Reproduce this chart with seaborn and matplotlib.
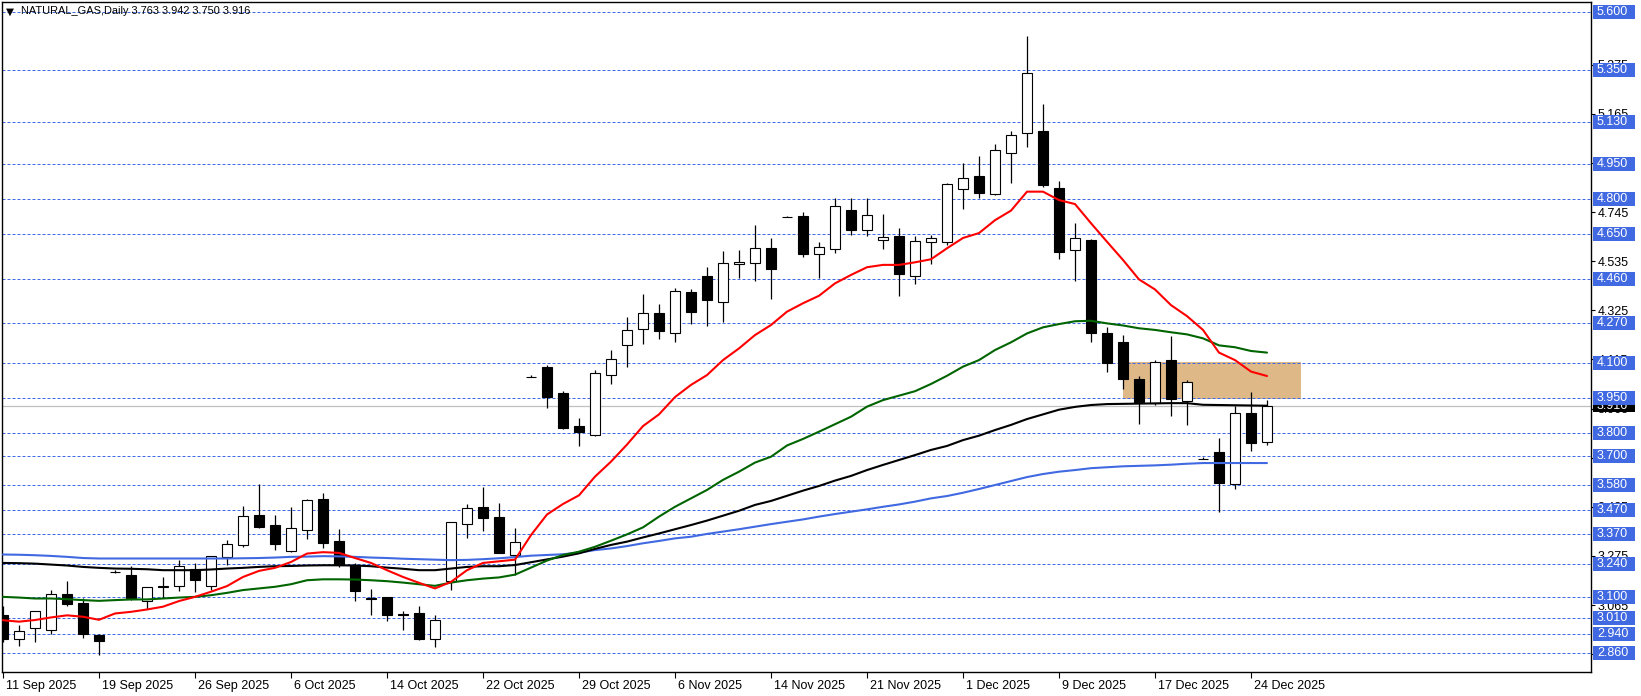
import matplotlib
matplotlib.use("Agg")
import matplotlib.pyplot as plt
import matplotlib.transforms as mtransforms
from matplotlib.patches import Rectangle
import numpy as np
import pandas as pd
import seaborn as sns

# daily bars, oldest first
opens = [3.022, 2.918, 2.965, 2.957, 3.114, 3.072, 2.937, 3.207, 3.193, 3.083,
         3.144, 3.147, 3.221, 3.147, 3.271, 3.323, 3.448, 3.406, 3.296, 3.387,
         3.519, 3.337, 3.235, 3.089, 3.099, 3.028, 3.029, 2.918, 3.168, 3.413,
         3.482, 3.440, 3.281, 4.038, 4.081, 3.970, 3.829, 3.790, 4.047, 4.175,
         4.244, 4.312, 4.229, 4.402, 4.470, 4.362, 4.521, 4.529, 4.590, 4.722,
         4.728, 4.564, 4.586, 4.752, 4.667, 4.624, 4.641, 4.470, 4.615, 4.615,
         4.842, 4.898, 4.823, 4.996, 5.081, 5.091, 4.848, 4.581, 4.625, 4.228,
         4.188, 4.031, 3.930, 4.111, 3.937, 3.688, 3.718, 3.581, 3.884, 3.763]
highs = [3.060, 2.979, 3.041, 3.131, 3.166, 3.093, 2.941, 3.214, 3.231, 3.142,
         3.186, 3.257, 3.245, 3.274, 3.345, 3.487, 3.581, 3.448, 3.484, 3.519,
         3.545, 3.389, 3.245, 3.133, 3.099, 3.039, 3.063, 3.022, 3.421, 3.498,
         3.569, 3.502, 3.393, 4.047, 4.091, 3.978, 3.863, 4.068, 4.155, 4.298,
         4.395, 4.352, 4.420, 4.416, 4.510, 4.578, 4.583, 4.690, 4.634, 4.728,
         4.745, 4.617, 4.804, 4.804, 4.804, 4.737, 4.675, 4.641, 4.645, 4.868,
         4.953, 4.984, 5.036, 5.090, 5.497, 5.205, 4.878, 4.698, 4.630, 4.252,
         4.218, 4.043, 4.111, 4.215, 4.027, 3.699, 3.779, 3.916, 3.976, 3.942]
lows = [2.908, 2.891, 2.908, 2.941, 3.060, 2.923, 2.852, 3.202, 3.086, 3.049,
        3.093, 3.126, 3.119, 3.129, 3.238, 3.313, 3.394, 3.299, 3.292, 3.346,
        3.309, 3.228, 3.083, 3.022, 2.998, 2.958, 2.916, 2.887, 3.129, 3.352,
        3.382, 3.288, 3.193, 4.038, 3.909, 3.816, 3.746, 3.786, 4.011, 4.084,
        4.182, 4.204, 4.191, 4.268, 4.259, 4.273, 4.462, 4.452, 4.375, 4.722,
        4.554, 4.462, 4.571, 4.648, 4.644, 4.586, 4.387, 4.439, 4.524, 4.605,
        4.759, 4.804, 4.819, 4.870, 5.024, 4.850, 4.546, 4.451, 4.191, 4.062,
        3.988, 3.840, 3.919, 3.875, 3.836, 3.688, 3.464, 3.562, 3.725, 3.750]
closes = [2.918, 2.954, 3.039, 3.114, 3.070, 2.940, 2.913, 3.207, 3.090, 3.140,
          3.146, 3.231, 3.174, 3.274, 3.328, 3.444, 3.398, 3.328, 3.396, 3.515,
          3.330, 3.235, 3.126, 3.097, 3.022, 3.024, 2.920, 2.999, 3.421, 3.481,
          3.438, 3.288, 3.336, 4.038, 3.953, 3.823, 3.805, 4.055, 4.115, 4.239,
          4.312, 4.238, 4.406, 4.318, 4.370, 4.526, 4.530, 4.590, 4.503, 4.722,
          4.567, 4.594, 4.769, 4.670, 4.731, 4.637, 4.482, 4.620, 4.633, 4.863,
          4.889, 4.825, 5.009, 5.073, 5.338, 4.862, 4.575, 4.633, 4.229, 4.098,
          4.033, 3.934, 4.102, 3.944, 4.017, 3.688, 3.588, 3.884, 3.759, 3.916]

# moving averages
ma_red = [3.000, 2.994, 3.001, 3.012, 3.021, 3.015, 3.002, 3.029, 3.036, 3.046,
          3.058, 3.082, 3.100, 3.122, 3.146, 3.185, 3.211, 3.224, 3.249, 3.285,
          3.291, 3.288, 3.266, 3.245, 3.214, 3.185, 3.160, 3.136, 3.164, 3.214,
          3.245, 3.252, 3.259, 3.364, 3.452, 3.497, 3.534, 3.614, 3.678, 3.751,
          3.830, 3.880, 3.954, 4.006, 4.048, 4.112, 4.162, 4.219, 4.262, 4.319,
          4.355, 4.387, 4.440, 4.476, 4.509, 4.519, 4.519, 4.530, 4.543, 4.590,
          4.634, 4.655, 4.710, 4.751, 4.832, 4.832, 4.796, 4.779, 4.697, 4.618,
          4.540, 4.457, 4.414, 4.347, 4.300, 4.241, 4.144, 4.112, 4.063, 4.044]
ma_green = [3.100, 3.097, 3.093, 3.093, 3.090, 3.086, 3.083, 3.086, 3.089, 3.089,
            3.093, 3.097, 3.100, 3.107, 3.117, 3.129, 3.136, 3.143, 3.154, 3.171,
            3.175, 3.175, 3.174, 3.171, 3.167, 3.161, 3.154, 3.147, 3.161, 3.171,
            3.178, 3.183, 3.195, 3.225, 3.255, 3.279, 3.293, 3.314, 3.340, 3.367,
            3.397, 3.443, 3.485, 3.521, 3.557, 3.600, 3.635, 3.674, 3.699, 3.747,
            3.775, 3.806, 3.838, 3.870, 3.913, 3.941, 3.960, 3.979, 4.010, 4.045,
            4.084, 4.112, 4.155, 4.188, 4.226, 4.252, 4.266, 4.278, 4.280, 4.269,
            4.260, 4.248, 4.241, 4.231, 4.222, 4.205, 4.175, 4.167, 4.151, 4.144]
ma_black = [3.245, 3.244, 3.242, 3.238, 3.234, 3.228, 3.224, 3.221, 3.220, 3.218,
            3.214, 3.214, 3.214, 3.217, 3.221, 3.224, 3.228, 3.231, 3.232, 3.234,
            3.235, 3.235, 3.234, 3.231, 3.225, 3.220, 3.214, 3.214, 3.221, 3.228,
            3.231, 3.231, 3.236, 3.248, 3.260, 3.272, 3.286, 3.305, 3.322, 3.336,
            3.354, 3.371, 3.389, 3.407, 3.426, 3.447, 3.468, 3.493, 3.510, 3.532,
            3.554, 3.574, 3.597, 3.617, 3.642, 3.664, 3.685, 3.706, 3.728, 3.745,
            3.770, 3.789, 3.813, 3.835, 3.860, 3.880, 3.900, 3.912, 3.920, 3.924,
            3.925, 3.926, 3.927, 3.928, 3.928, 3.921, 3.920, 3.919, 3.918, 3.917]
ma_blue = [3.281, 3.280, 3.278, 3.275, 3.271, 3.266, 3.264, 3.264, 3.264, 3.264,
           3.264, 3.264, 3.264, 3.264, 3.264, 3.265, 3.266, 3.268, 3.271, 3.272,
           3.274, 3.273, 3.271, 3.268, 3.266, 3.263, 3.261, 3.259, 3.257, 3.258,
           3.261, 3.265, 3.270, 3.276, 3.279, 3.282, 3.289, 3.300, 3.307, 3.317,
           3.329, 3.339, 3.350, 3.357, 3.369, 3.379, 3.389, 3.400, 3.411, 3.421,
           3.431, 3.443, 3.454, 3.464, 3.474, 3.485, 3.495, 3.507, 3.521, 3.531,
           3.545, 3.561, 3.578, 3.595, 3.612, 3.625, 3.635, 3.642, 3.650, 3.654,
           3.658, 3.660, 3.662, 3.665, 3.669, 3.672, 3.672, 3.672, 3.672, 3.672]

date_labels = ["11 Sep 2025", "19 Sep 2025", "26 Sep 2025", "6 Oct 2025", "14 Oct 2025",
               "22 Oct 2025", "29 Oct 2025", "6 Nov 2025", "14 Nov 2025", "21 Nov 2025",
               "1 Dec 2025", "9 Dec 2025", "17 Dec 2025", "24 Dec 2025"]
date_bars = [0, 6, 12, 18, 24, 30, 36, 42, 48, 54, 60, 66, 72, 78]

levels = [5.600, 5.350, 5.130, 4.950, 4.800, 4.650, 4.460, 4.270, 4.100, 3.950,
          3.800, 3.700, 3.580, 3.470, 3.370, 3.240, 3.100, 3.010, 2.940, 2.860]
scale_ticks = [5.375, 5.165, 4.955, 4.745, 4.535, 4.325, 4.115, 3.905, 3.695,
               3.485, 3.275, 3.065, 2.855]
last_price = 3.916
zone_bars = [70, 81.1]
zone_prices = [3.946, 4.102]
title = "NATURAL_GAS,Daily 3.763 3.942 3.750 3.916"

sns.set_theme(style="white")
plt.rcParams['font.family'] = ['Liberation Sans', 'DejaVu Sans']

W, H = 1641, 696
fig = plt.figure(figsize=(W / 100, H / 100), dpi=100)
ax = fig.add_axes([2 / W, 24 / H, 1589 / W, 670 / H])

n = len(closes)
x = np.arange(n)
o = np.array(opens)
c = np.array(closes)

# support/resistance zone
ax.add_patch(Rectangle((zone_bars[0], zone_prices[0]), zone_bars[1] - zone_bars[0],
                       zone_prices[1] - zone_prices[0], fc="#DEB887", ec="none", zorder=0.5))

for lv in levels:
    ax.axhline(lv, color="#4169E1", lw=0.72, ls=(0, (3, 2)), zorder=1)
ax.axhline(last_price, color="#C0C0C0", lw=0.9, zorder=1.2)

# candles
ax.vlines(x, lows, highs, color="black", lw=0.9, zorder=2)
body_col = np.where(c >= o, "white", "black")
ax.bar(x, np.abs(c - o), bottom=np.minimum(o, c), width=0.66, color=body_col,
       edgecolor="black", linewidth=0.8, zorder=3)

# moving averages
ma = pd.DataFrame({"bar": x, "red": ma_red, "green": ma_green,
                   "black": ma_black, "blue": ma_blue})
for col, color in [("blue", "#4169E1"), ("black", "black"), ("green", "#006400"), ("red", "#FF0000")]:
    sns.lineplot(data=ma, x="bar", y=col, color=color, lw=1.5, ax=ax, legend=False, zorder=4)

ax.set_xlim(-0.0625, 99.25)
ax.set_ylim(2.7788, 5.6427)

# axes frame and ticks
for s in ax.spines.values():
    s.set_color("black")
    s.set_linewidth(1)
ax.yaxis.tick_right()
ax.set_yticks(scale_ticks)
ax.set_yticklabels([f"{v:.3f}" for v in scale_ticks])
ax.tick_params(axis="y", direction="out", length=3, width=0.8, color="black",
               labelsize=9, labelcolor="black", pad=2, right=True, left=False)
ax.set_xticks(date_bars)
ax.set_xticklabels(date_labels, ha="left")
ax.tick_params(axis="x", direction="out", length=4, width=0.8, color="black",
               labelsize=9, labelcolor="black", pad=2, bottom=True)
shift = mtransforms.ScaledTranslation(3 / 100, 0, fig.dpi_scale_trans)
for lab in ax.get_xticklabels():
    lab.set_transform(lab.get_transform() + shift)
ax.set_xlabel("")
ax.set_ylabel("")

# price level boxes on the scale
trans = mtransforms.blended_transform_factory(ax.transAxes, ax.transData)
px = 1 / 233.94
bx0 = (1593 - 2) / 1589
bw = 42 / 1589
for lv in levels:
    ax.add_patch(Rectangle((bx0, lv - 7 * px), bw, 14 * px, transform=trans,
                           fc="#4169E1", ec="none", clip_on=False, zorder=6))
    ax.text(bx0 + 4 / 1589, lv, f"{lv:.3f}", transform=trans, color="white",
            fontsize=9, va="center", ha="left", clip_on=False, zorder=7)
ax.add_patch(Rectangle((bx0, last_price - 6 * px), bw, 12 * px, transform=trans,
                       fc="black", ec="none", clip_on=False, zorder=5))
ax.text(bx0 + 4 / 1589, last_price, f"{last_price:.3f}", transform=trans, color="white",
        fontsize=9, va="center", ha="left", clip_on=False, zorder=5.5)

# title
ax.text(4 / 1589, 0.986, "\u25BC", transform=ax.transAxes, fontsize=7.5, va="center",
        ha="left", color="black", family="DejaVu Sans", zorder=8)
ax.text(19 / 1589, 0.986, title, transform=ax.transAxes, fontsize=7.9, va="center",
        ha="left", color="black", zorder=8)

fig.savefig("out.png", dpi=100)
